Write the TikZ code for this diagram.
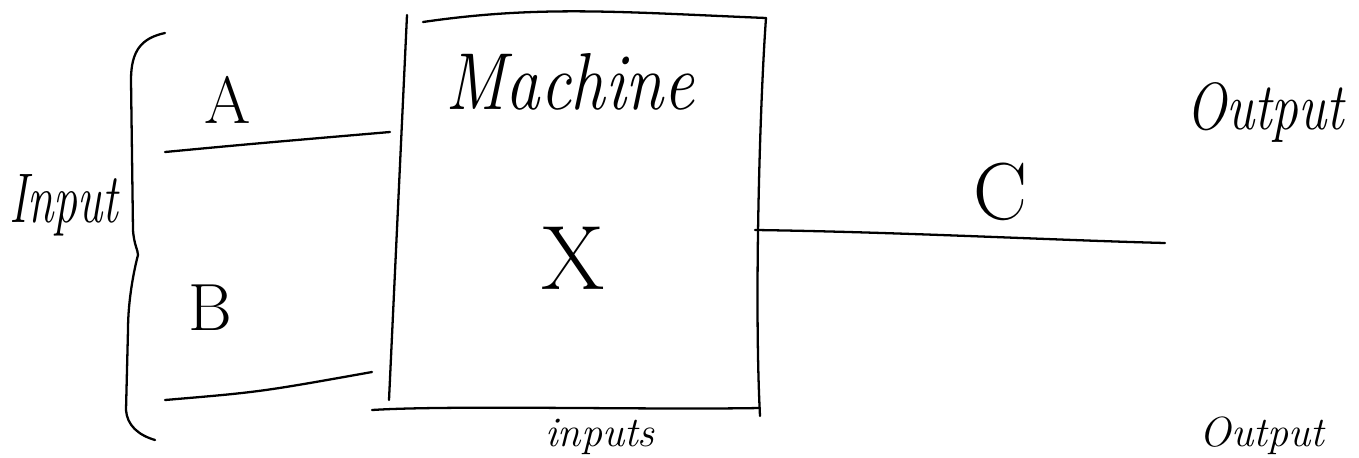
\documentclass[tikz,border=0pt]{standalone}
\begin{document}
\begin{tikzpicture}[x=0.02cm,y=-0.02cm,
  ink/.style={line width=1.3pt,line cap=round,line join=round},
  hand/.style={font=\itshape, inner sep=0pt}]
\fill[white] (0,0) rectangle (1359,457);
\useasboundingbox (0,0) rectangle (1359,457);
% brace
\draw[ink] (165,33) .. controls (142,38) and (131,50) .. (131,80)
  -- (133,230) .. controls (134,245) and (138,250) .. (138,255)
  .. controls (134,270) and (128,300) .. (128,330) -- (126,410)
  .. controls (127,425) and (138,435) .. (155,440);
\node[hand,font=\itshape\fontsize{40}{40}\selectfont,xscale=0.68] (input) at (64,205) {Input};
% inputs
\coordinate (a0) at (165,152);
\coordinate (a1) at (390,132);
\coordinate (b0) at (165,400);
\coordinate (b1) at (372,372);
\draw[ink] (a0) .. controls (250,144) .. (a1);
\draw[ink] (b0) .. controls (260,392) .. (b1);
\node[hand,font=\fontsize{38}{38}\selectfont] (A) at (228,100) {A};
\node[hand,font=\fontsize{38}{38}\selectfont] (B) at (210,308) {B};
% box
\coordinate (tl) at (407,15);
\coordinate (tr) at (766,18);
\coordinate (bl) at (389,400);
\coordinate (br) at (760,408);
\draw[ink] (tl) -- (bl);
\draw[ink] (423,22) .. controls (540,5) and (620,12) .. (tr);
\draw[ink] (tr) .. controls (760,100) and (754,300) .. (760,416);
\draw[ink] (372,410) .. controls (450,405) and (650,410) .. (br);
\node[hand,font=\itshape\fontsize{46}{46}\selectfont,xscale=0.85] (machine) at (570,82) {Machine};
\node[hand,font=\fontsize{52}{52}\selectfont] (X) at (573,258) {X};
% output
\coordinate (c0) at (755,230);
\coordinate (c1) at (1165,243);
\draw[ink] (c0) .. controls (900,232) and (1050,240) .. (c1);
\node[hand,font=\fontsize{46}{46}\selectfont] (C) at (1000,192) {C};
\node[hand,font=\itshape\fontsize{38}{38}\selectfont,xscale=0.8] (output) at (1265,112) {Output};
% bottom labels
\node[hand,font=\itshape\fontsize{24}{24}\selectfont,anchor=south] (inputs) at (600,455) {inputs};
\node[hand,font=\itshape\fontsize{24}{24}\selectfont,anchor=south] (output2) at (1262,455) {Output};
\end{tikzpicture}
\end{document}
